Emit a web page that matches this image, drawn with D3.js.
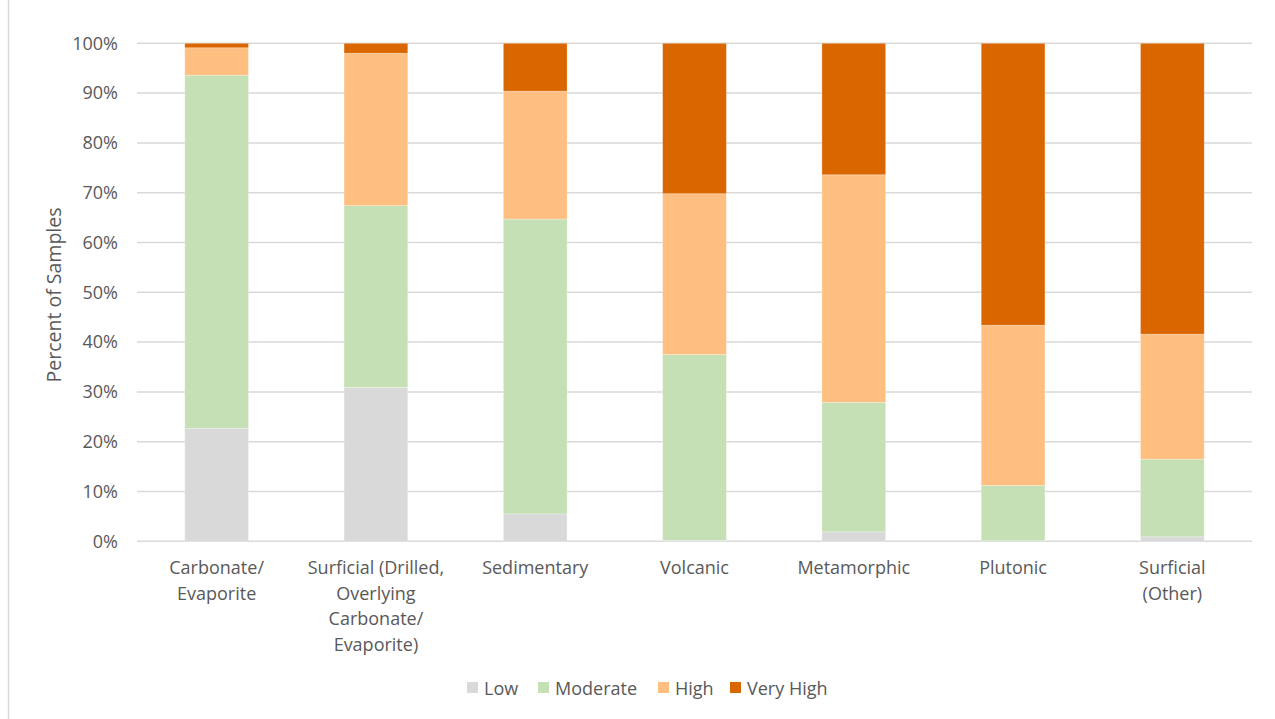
<!DOCTYPE html>
<html><head><meta charset="utf-8">
<script src="https://cdn.jsdelivr.net/npm/d3@7"></script>
<style>body{margin:0;background:#fff}svg{display:block}text{font-family:"Open Sans",sans-serif;fill:#595959}</style>
</head><body><svg id="c" width="1275" height="719"></svg>
<script>
const categories = [
  ["Carbonate/","Evaporite"],
  ["Surficial (Drilled,","Overlying","Carbonate/","Evaporite)"],
  ["Sedimentary"],
  ["Volcanic"],
  ["Metamorphic"],
  ["Plutonic"],
  ["Surficial","(Other)"]
];
const seriesNames = ["Low","Moderate","High","Very High"];
const low      = [22.7, 30.9,  5.5,  0.2,  1.9,  0.1,  0.9];
const moderate = [70.9, 36.5, 59.2, 37.3, 26.0, 11.1, 15.6];
const high     = [ 5.5, 30.6, 25.7, 32.3, 45.7, 32.2, 25.1];
const veryHigh = [ 0.9,  2.0,  9.6, 30.2, 26.4, 56.6, 58.4];
const yTicks = [0,10,20,30,40,50,60,70,80,90,100];
const colors = ["#d9d9d9","#c5e0b4","#ffbf80","#da6600"];

const svg = d3.select("#c");
const x = d3.scaleBand().domain(d3.range(categories.length)).range([137,1252]).paddingInner(0.6).paddingOuter(0.3);
const y = d3.scaleLinear().domain([0,100]).range([541.3,43.3]);

// border
svg.append("line").attr("x1",8.5).attr("x2",8.5).attr("y1",0).attr("y2",719).attr("stroke","#d9d9d9").attr("stroke-width",1.5);

// gridlines
svg.append("g").selectAll("line").data(yTicks).join("line")
  .attr("x1",137).attr("x2",1252).attr("y1",d=>y(d)).attr("y2",d=>y(d))
  .attr("stroke","#d9d9d9").attr("stroke-width",1.5);

// y tick labels
const yAxis = d3.axisLeft(y).tickValues(yTicks).tickFormat(d=>d+"%").tickSize(0).tickPadding(0);
const ya = svg.append("g").attr("transform","translate(118,0)").call(yAxis);
ya.select(".domain").remove();
ya.selectAll("text").style("font-size","18px").attr("fill","#595959").style("font-family","'Open Sans',sans-serif");

// stacked bars
const rows = categories.map((c,i)=>({i, Low:low[i], Moderate:moderate[i], High:high[i], "Very High":veryHigh[i]}));
const stack = d3.stack().keys(seriesNames)(rows);
svg.append("g").selectAll("g").data(stack).join("g").attr("fill",(d,k)=>colors[k])
  .selectAll("rect").data(d=>d).join("rect")
  .attr("x",d=>x(d.data.i)).attr("width",x.bandwidth())
  .attr("y",d=>y(d[1])).attr("height",d=>Math.max(0,y(d[0])-y(d[1])))
  .attr("stroke","#ffffff").attr("stroke-opacity",0.35).attr("stroke-width",0.75);

// x labels
const xl = svg.append("g");
categories.forEach((lines,i)=>{
  const t = xl.append("text").attr("text-anchor","middle").style("font-size","18px")
    .attr("x",x(i)+x.bandwidth()/2).attr("y",574);
  lines.forEach((ln,j)=>t.append("tspan").attr("x",x(i)+x.bandwidth()/2).attr("dy",j===0?0:25.7).text(ln));
});

// y title
svg.append("text").attr("transform","translate(61,295) rotate(-90)").attr("text-anchor","middle")
  .style("font-size","19.5px").text("Percent of Samples");

// legend
const legX = [467,538,658,730];
const lg = svg.append("g");
seriesNames.forEach((s,k)=>{
  lg.append("rect").attr("x",legX[k]).attr("y",682).attr("width",11).attr("height",11).attr("fill",colors[k]);
  lg.append("text").attr("x",legX[k]+17).attr("y",694.5).style("font-size","18px").text(s);
});
</script></body></html>
